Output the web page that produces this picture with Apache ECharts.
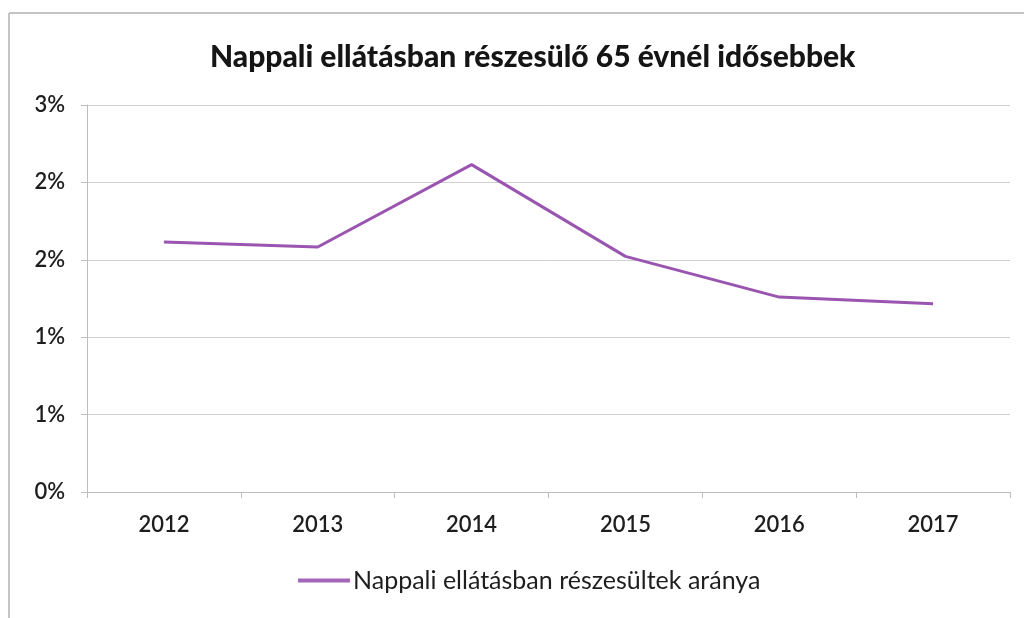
<!DOCTYPE html>
<html>
<head>
<meta charset="utf-8">
<script src="https://cdn.jsdelivr.net/npm/echarts@6/dist/echarts.min.js"></script>
<style>
  html, body { margin: 0; padding: 0; background: #fff; }
  #chart { width: 1024px; height: 618px; }
</style>
</head>
<body>
<div id="chart"></div>
<script>
var years = ['2012', '2013', '2014', '2015', '2016', '2017'];
// share of people over 65 in day care, in percent
var rates = [1.615, 1.583, 2.115, 1.522, 1.259, 1.216];
var seriesName = 'Nappali ellátásban részesültek aránya';
var titleText = 'Nappali ellátásban részesülő 65 évnél idősebbek';

var font = 'Lato, "Open Sans", sans-serif';
var chart = echarts.init(document.getElementById('chart'));

chart.setOption({
  animation: false,
  backgroundColor: '#fff',
  title: {
    text: titleText,
    left: 205,
    top: 37,
    textStyle: { fontFamily: font, fontSize: 30, fontWeight: 900, color: '#151515' }
  },
  legend: {
    bottom: 20,
    left: 293,
    itemWidth: 52,
    itemHeight: 4,
    itemGap: 4,
    icon: 'rect',
    textStyle: { fontFamily: font, fontSize: 25, color: '#1e1e1e', padding: [0, 0, 0, -2] },
    data: [seriesName]
  },
  grid: { left: 87, right: 14, top: 105, bottom: 126, containLabel: false },
  xAxis: {
    type: 'category',
    data: years,
    boundaryGap: true,
    axisLine: { lineStyle: { color: '#bdbdbd', width: 1 } },
    axisTick: { show: true, length: 6, lineStyle: { color: '#bdbdbd' } },
    axisLabel: { fontFamily: font, fontSize: 22, fontWeight: 600, color: '#1e1e1e', margin: 22 }
  },
  yAxis: {
    type: 'value',
    min: 0,
    max: 2.5,
    interval: 0.5,
    axisLine: { show: true, lineStyle: { color: '#bdbdbd' } },
    axisTick: { show: true, length: 6, inside: false, lineStyle: { color: '#bdbdbd' } },
    splitLine: { lineStyle: { color: '#d0d0d0', width: 1 } },
    axisLabel: {
      fontFamily: font, fontSize: 22, fontWeight: 600, color: '#1e1e1e', margin: 22,
      formatter: function (v) { return Math.round(v) + '%'; }
    }
  },
  series: [{
    name: seriesName,
    type: 'line',
    data: rates,
    symbol: 'none',
    lineStyle: { color: '#9a55b0', width: 3 },
    itemStyle: { color: '#a466b8' }
  }],
  graphic: [
    { type: 'line', shape: { x1: 9, y1: 13, x2: 9, y2: 618 }, style: { stroke: '#c4c4c4', lineWidth: 2 } },
    { type: 'line', shape: { x1: 9, y1: 13, x2: 1024, y2: 13 }, style: { stroke: '#c4c4c4', lineWidth: 2 } }
  ]
});
</script>
</body>
</html>
